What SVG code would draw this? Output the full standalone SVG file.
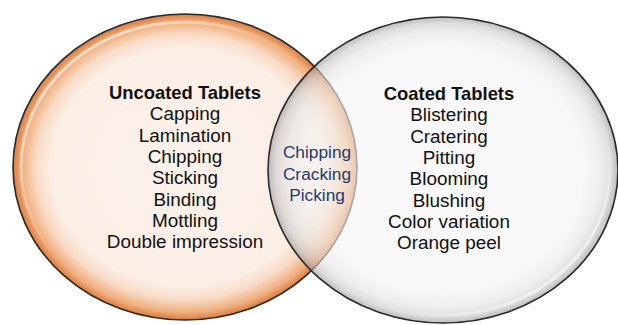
<svg xmlns="http://www.w3.org/2000/svg" width="618" height="325" viewBox="0 0 618 325">
  <defs>
    <radialGradient id="gOrange" cx="0.5" cy="0.5" r="0.5">
      <stop offset="0" stop-color="#FCF2EB"/>
      <stop offset="0.78" stop-color="#FBEEE5"/>
      <stop offset="0.87" stop-color="#F8DAC4"/>
      <stop offset="0.95" stop-color="#F0AE7C"/>
      <stop offset="1" stop-color="#DC7B3E"/>
    </radialGradient>
    <radialGradient id="gGray" cx="0.5" cy="0.5" r="0.5">
      <stop offset="0" stop-color="#F5F5F5"/>
      <stop offset="0.8" stop-color="#F3F3F3"/>
      <stop offset="0.9" stop-color="#E4E4E4"/>
      <stop offset="0.96" stop-color="#C8C8C8"/>
      <stop offset="1" stop-color="#959595"/>
    </radialGradient>
    <linearGradient id="hlL" x1="0" y1="0" x2="1" y2="1">
      <stop offset="0" stop-color="#FFFFFF" stop-opacity="0.9"/>
      <stop offset="0.45" stop-color="#FFFFFF" stop-opacity="0"/>
    </linearGradient>
    <linearGradient id="hlR" x1="1" y1="1" x2="0" y2="0">
      <stop offset="0" stop-color="#FFFFFF" stop-opacity="0.9"/>
      <stop offset="0.35" stop-color="#FFFFFF" stop-opacity="0"/>
    </linearGradient>
  </defs>
  <style>
    .t { font-family: "Liberation Sans", Arial, sans-serif; font-size: 18.9px; fill: #111111; text-anchor: middle; }
    .b { font-weight: bold; font-size: 18.4px; }
    .m { fill: #1F3A6E; font-size: 17.3px; }
    .edge { stroke: #2A2A2A; stroke-width: 1.6; }
  </style>
  <g id="uncoated">
    <ellipse cx="185" cy="167" rx="172" ry="153" fill="url(#gOrange)" class="edge"/>
    <ellipse cx="185" cy="167" rx="164" ry="145" fill="none" stroke="url(#hlL)" stroke-width="3"/>
  </g>
  <g id="coated">
    <ellipse cx="443" cy="170" rx="175" ry="153" fill="url(#gGray)" fill-opacity="0.62" class="edge"/>
    <ellipse cx="443" cy="170" rx="167" ry="145" fill="none" stroke="url(#hlR)" stroke-width="3"/>
  </g>
  <g id="uncoated-text">
    <text class="t b" x="185" y="99">Uncoated Tablets</text>
    <text class="t" x="185" y="120.3">Capping</text>
    <text class="t" x="185" y="141.6">Lamination</text>
    <text class="t" x="185" y="163">Chipping</text>
    <text class="t" x="185" y="184.3">Sticking</text>
    <text class="t" x="185" y="205.6">Binding</text>
    <text class="t" x="185" y="227">Mottling</text>
    <text class="t" x="185" y="248.3">Double impression</text>
  </g>
  <g id="coated-text">
    <text class="t b" x="449" y="100">Coated Tablets</text>
    <text class="t" x="449" y="121.3">Blistering</text>
    <text class="t" x="449" y="142.6">Cratering</text>
    <text class="t" x="449" y="164">Pitting</text>
    <text class="t" x="449" y="185.3">Blooming</text>
    <text class="t" x="449" y="206.6">Blushing</text>
    <text class="t" x="449" y="228">Color variation</text>
    <text class="t" x="449" y="249.3">Orange peel</text>
  </g>
  <g id="common-text">
    <text class="t m" x="317" y="158">Chipping</text>
    <text class="t m" x="317" y="179.5">Cracking</text>
    <text class="t m" x="317" y="201">Picking</text>
  </g>
</svg>
